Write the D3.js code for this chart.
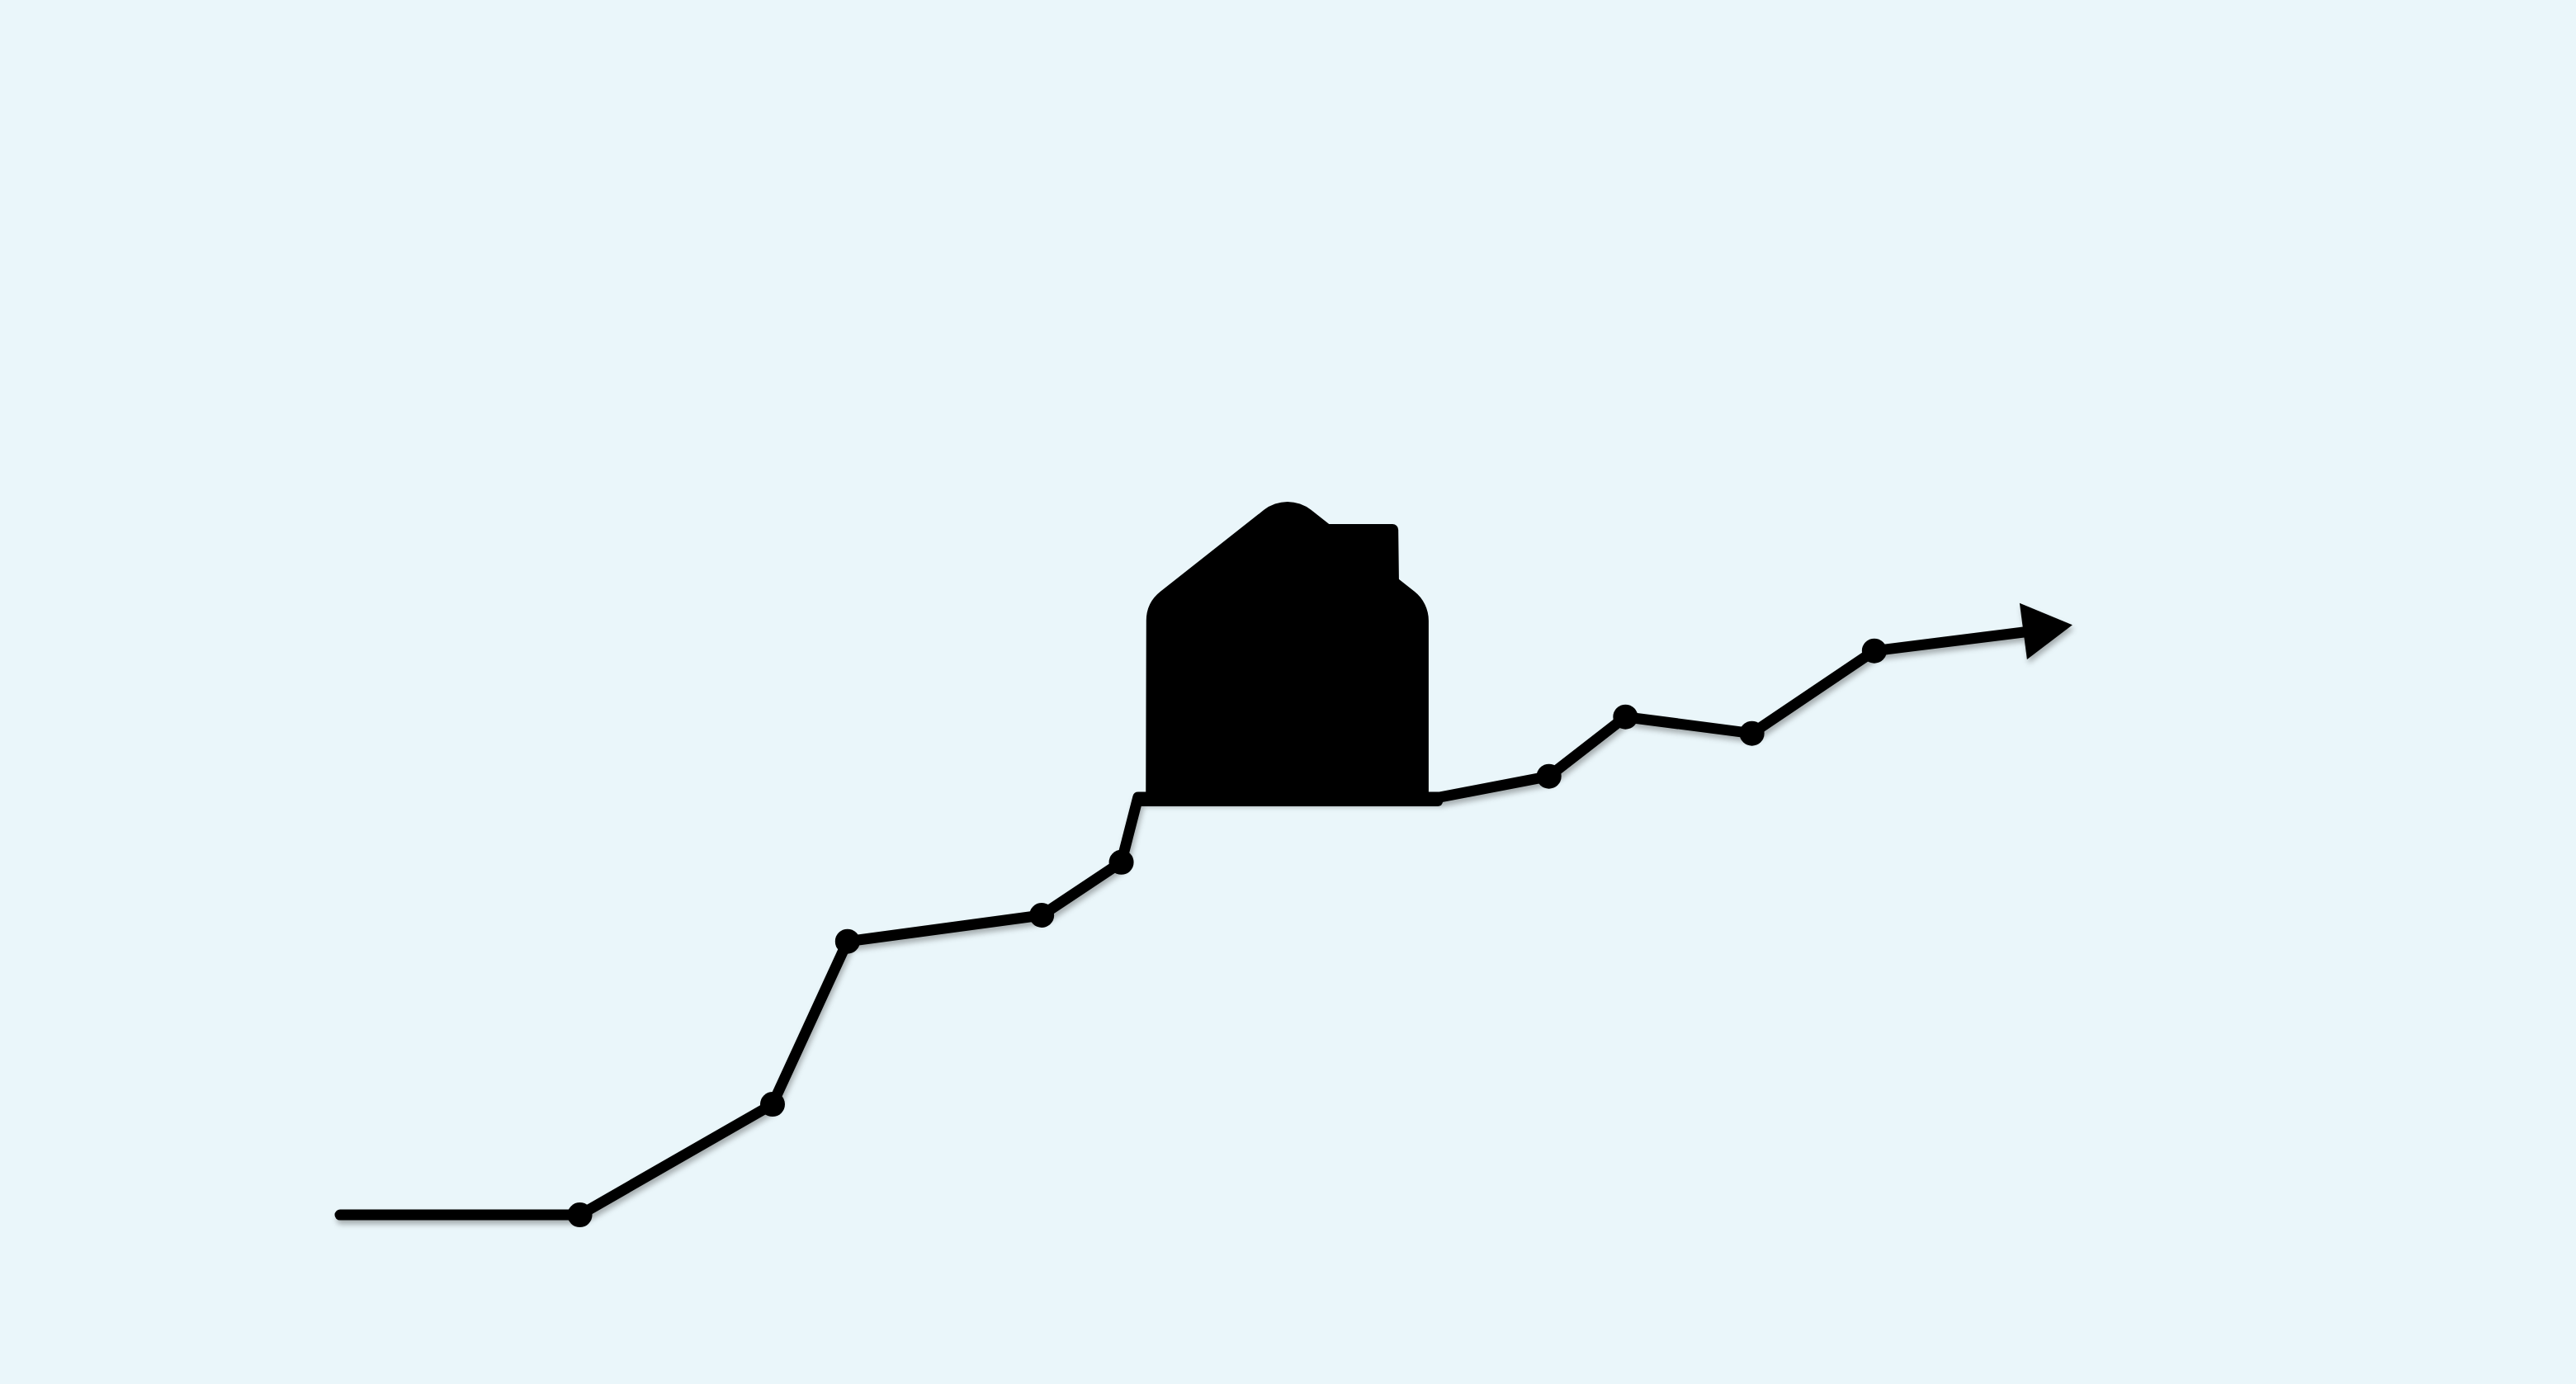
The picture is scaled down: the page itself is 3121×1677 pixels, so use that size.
<!DOCTYPE html>
<html>
<head>
<meta charset="utf-8">
<script src="https://cdn.jsdelivr.net/npm/d3@7"></script>
<style>
  html, body { margin: 0; padding: 0; background: #eaf6fa; }
  svg { display: block; }
</style>
</head>
<body>
<div id="chart"></div>
<script>
const width = 3121;
const height = 1677;

const lineX = [13.20, 22.51, 29.99, 32.90, 40.44, 43.53, 44.18, 55.91, 60.13, 63.10, 68.01, 72.76, 78.56];
const lineY = [12.22, 12.22, 20.21, 31.98, 33.87, 37.70, 42.40, 42.40, 43.91, 48.20, 47.01, 52.97, 54.32];

const dotX = [22.51, 29.99, 32.90, 40.44, 43.53, 60.13, 63.10, 68.01, 72.76];
const dotY = [12.22, 20.21, 31.98, 33.87, 37.70, 43.91, 48.20, 47.01, 52.97];

const arrowX = [78.40, 80.45, 78.69];
const arrowY = [56.43, 54.84, 52.36];

// House outline, with the rounding for each corner
const houseX = [44.48, 44.50, 49.98, 55.46, 55.46];
const houseY = [42.40, 56.45, 64.50, 56.45, 42.40];
const houseRound = [0, 45, 46, 45, 0];

const chimneyX = [51.27, 54.28, 54.31, 51.27];
const chimneyY = [62.13, 62.13, 57.66, 57.66];
const chimneyRound = [0, 7, 0, 0];

const baseX = [44.25, 55.82];
const baseY = [42.10, 42.10];

const x = d3.scaleLinear().domain([0, 100]).range([0, width]);
const y = d3.scaleLinear().domain([0, 100]).range([height, 0]);

const svg = d3.select('#chart')
  .append('svg')
  .attr('width', width)
  .attr('height', height);

const lineGen = d3.line()
  .x(i => x(i.x))
  .y(i => y(i.y));

const zip = (xs, ys) => xs.map((v, i) => ({ x: v, y: ys[i] }));

// Closed outline with rounded corners
function roundedShape(xs, ys, radii) {
  const n = xs.length;
  const p = d3.path();
  p.moveTo((x(xs[0]) + x(xs[n - 1])) / 2, (y(ys[0]) + y(ys[n - 1])) / 2);
  for (let i = 0; i < n; i++) {
    const j = (i + 1) % n;
    p.arcTo(x(xs[i]), y(ys[i]), x(xs[j]), y(ys[j]), radii[i]);
  }
  p.closePath();
  return p.toString();
}

// Line and arrow head carry a soft shadow
const trend = svg.append('g')
  .style('filter', 'drop-shadow(2px 5px 3px rgba(40,40,40,0.35))');

trend.append('path')
  .attr('d', lineGen(zip(lineX, lineY)))
  .attr('fill', 'none')
  .attr('stroke', '#000')
  .attr('stroke-width', 13)
  .attr('stroke-linecap', 'round')
  .attr('stroke-linejoin', 'round');

trend.append('path')
  .attr('d', lineGen(zip(arrowX, arrowY)) + 'Z')
  .attr('fill', '#000');

// Dots
svg.selectAll('.dot')
  .data(zip(dotX, dotY))
  .enter()
  .append('circle')
  .attr('class', 'dot')
  .attr('cx', d => x(d.x))
  .attr('cy', d => y(d.y))
  .attr('r', 15)
  .attr('fill', '#000');

// House
svg.append('path')
  .attr('d', roundedShape(chimneyX, chimneyY, chimneyRound))
  .attr('fill', '#000');

svg.append('path')
  .attr('d', roundedShape(houseX, houseY, houseRound))
  .attr('fill', '#000');

svg.append('path')
  .attr('d', lineGen(zip(baseX, baseY)))
  .attr('fill', 'none')
  .attr('stroke', '#000')
  .attr('stroke-width', 12)
  .attr('stroke-linecap', 'round');
</script>
</body>
</html>
